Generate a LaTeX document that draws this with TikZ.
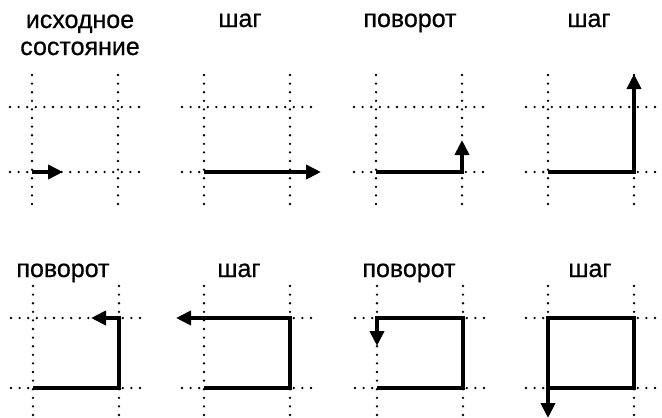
\documentclass[tikz,border=0pt]{standalone}
\usepackage{fontspec}
\setmainfont{Liberation Sans}
\newfontfamily\titlefont[FakeBold=0.7]{Liberation Sans}
\usetikzlibrary{arrows.meta, calc}

\begin{document}
\begin{tikzpicture}[
        x=1pt, y=-1pt,
        gridline/.style={
            line width=2.6pt, line cap=round,
            dash pattern=on 0pt off 8.6pt
        },
        move/.style={line width=4.6pt},
        title/.style={font=\titlefont\fontsize{25}{27}\selectfont, align=center},
        >={Triangle[length=15pt, width=14pt]},
    ]
    \useasboundingbox (0,0) rectangle (662,418);

    % Grids and grid points of every panel
    \foreach \i/\x/\yt/\yb/\ya/\yz in {
            1/32/107/172/75/210, 2/204/107/172/75/210,
            3/376/107/172/75/210, 4/548/107/172/75/210,
            5/33/318/388/286/420, 6/204/318/388/286/420,
            7/377/318/388/286/420, 8/548/318/388/286/420} {
        \draw [gridline] (\x-22,\yt) -- (\x+115,\yt);
        \draw [gridline] (\x-22,\yb) -- (\x+115,\yb);
        \draw [gridline] (\x,\ya) -- (\x,\yz);
        \draw [gridline] (\x+86,\ya) -- (\x+86,\yz);
        \coordinate (bl\i) at (\x,\yb);
        \coordinate (br\i) at (\x+86,\yb);
        \coordinate (tr\i) at (\x+86,\yt);
        \coordinate (tl\i) at (\x,\yt);
    }

    % Titles
    \node [title, anchor=base] (t1) at (80,55) {исходное\\состояние};
    \node [title, anchor=base] (t2) at (240,27) {шаг};
    \node [title, anchor=base] (t3) at (410,27) {поворот};
    \node [title, anchor=base] (t4) at (589,27) {шаг};
    \node [title, anchor=base] (t5) at (63,277) {поворот};
    \node [title, anchor=base] (t6) at (239,277) {шаг};
    \node [title, anchor=base] (t7) at (409,277) {поворот};
    \node [title, anchor=base] (t8) at (590,277) {шаг};

    % Arrow tips
    \coordinate (tip1) at ($(bl1)+(31,0)$);
    \coordinate (tip2) at ($(br2)+(31,0)$);
    \coordinate (tip3) at ($(br3)+(0,-32)$);
    \coordinate (tip4) at ($(tr4)+(0,-33)$);
    \coordinate (tip5) at ($(tr5)+(-28,0)$);
    \coordinate (tip6) at ($(tl6)+(-28,0)$);
    \coordinate (tip7) at ($(tl7)+(0,28)$);
    \coordinate (tip8) at ($(bl8)+(0,30)$);

    % Turtle paths
    \draw [move, ->] (bl1) -- (tip1);
    \draw [move, ->] (bl2) -- (br2) -- (tip2);
    \draw [move, ->] (bl3) -- (br3) -- (tip3);
    \draw [move, ->] (bl4) -- (br4) -- (tip4);
    \draw [move, ->] (bl5) -- (br5) -- (tr5) -- (tip5);
    \draw [move, ->] (bl6) -- (br6) -- (tr6) -- (tip6);
    \draw [move, ->] (bl7) -- (br7) -- (tr7) -- (tl7) -- (tip7);
    \draw [move, ->] (bl8) -- (br8) -- (tr8) -- (tl8) -- (tip8);
\end{tikzpicture}
\end{document}
